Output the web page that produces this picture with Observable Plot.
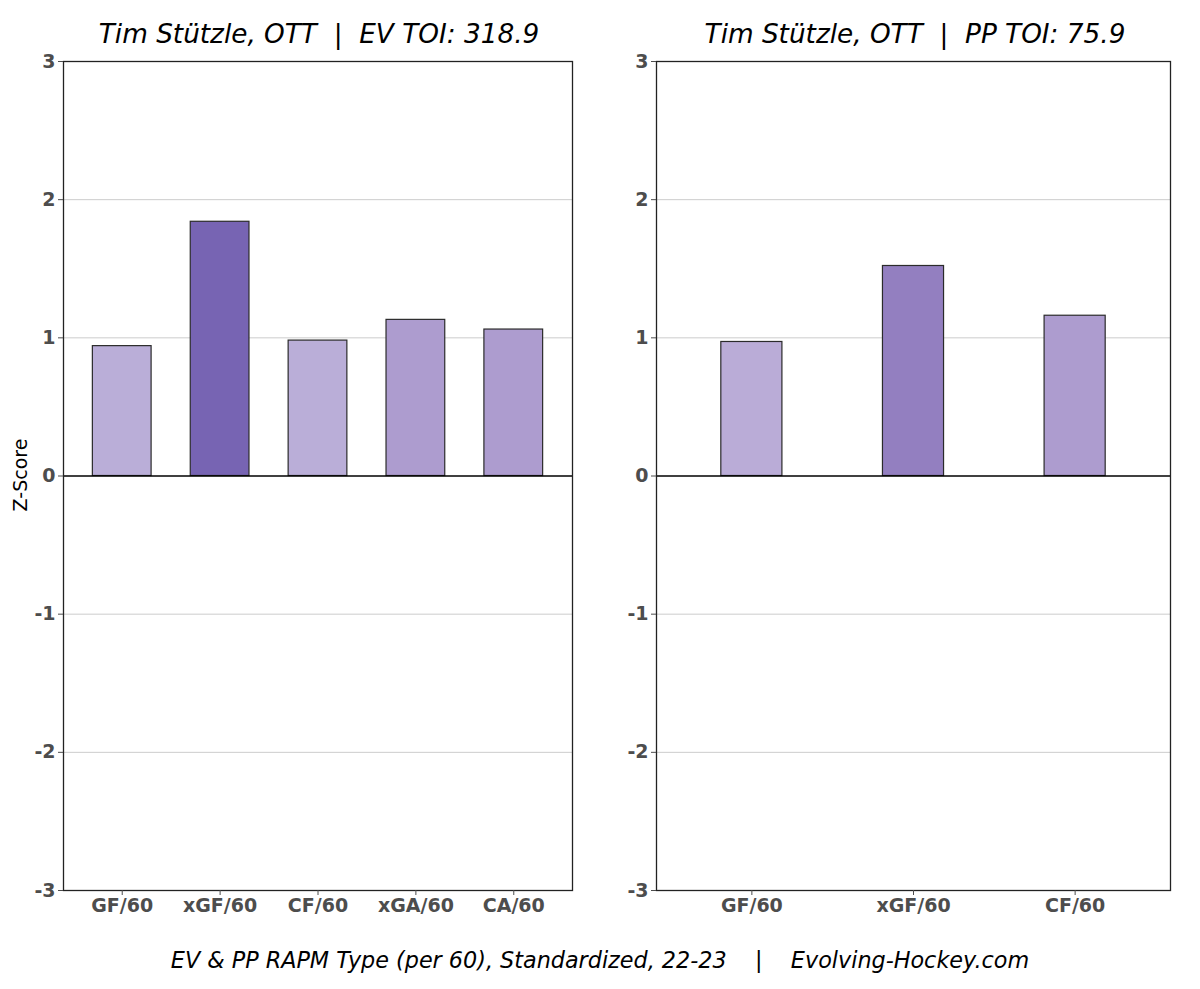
<!DOCTYPE html>
<html>
<head>
<meta charset="utf-8">
<script src="https://cdn.jsdelivr.net/npm/d3@7"></script>
<script src="https://cdn.jsdelivr.net/npm/@observablehq/plot@0.6"></script>
<style>
  html, body { margin: 0; padding: 0; background: #fff; }
  #wrap { position: relative; width: 1200px; height: 989px; overflow: hidden; font-family: "DejaVu Sans", sans-serif; }
  .panel { position: absolute; top: 0; }
  .title { position: absolute; width: 600px; text-align: center; font-style: italic; font-size: 26.3px; line-height: 26.3px; color: #000; white-space: pre; }
  .caption { position: absolute; left: 0; width: 1200px; text-align: center; font-style: italic; font-size: 22.3px; line-height: 22.3px; color: #000; white-space: pre; }
  .ylabel { position: absolute; width: 200px; height: 20px; line-height: 20px; text-align: center; font-size: 19px; color: #000; transform: rotate(-90deg); }
</style>
</head>
<body>
<div id="wrap"></div>
<script>
// ---- data ----
const evMetrics = ["GF/60", "xGF/60", "CF/60", "xGA/60", "CA/60"];
const evValues = [0.94, 1.84, 0.98, 1.13, 1.06];
const ppMetrics = ["GF/60", "xGF/60", "CF/60"];
const ppValues = [0.97, 1.52, 1.16];
const yTicks = [-3, -2, -1, 0, 1, 2, 3];
const gridTicks = [-2, -1, 1, 2];
const evTitle = "Tim Stützle, OTT  |  EV TOI: 318.9";
const ppTitle = "Tim Stützle, OTT  |  PP TOI: 75.9";
const captionText = "EV & PP RAPM Type (per 60), Standardized, 22-23    |    Evolving-Hockey.com";
const yLabel = "Z-Score";

// ---- styles ----
const evFills = ["#baaed8", "#7764b3", "#baaed8", "#ad9ccf", "#ad9ccf"];
const ppFills = ["#baacd7", "#937fc0", "#ad9ccf"];

function panel(metrics, values, fills, opts) {
  const data = metrics.map((m, i) => ({metric: m, value: values[i], fill: fills[i]}));
  return Plot.plot({
    width: 600,
    height: 989,
    marginTop: 61,
    marginBottom: 99,
    marginLeft: opts.marginLeft,
    marginRight: opts.marginRight,
    style: {fontFamily: "DejaVu Sans, sans-serif", background: "transparent", overflow: "visible"},
    x: {type: "band", domain: metrics, paddingInner: opts.paddingInner, paddingOuter: opts.paddingOuter, align: 0.5, round: false, label: null},
    y: {domain: [-3, 3], label: null},
    color: {type: "identity"},
    marks: [
      Plot.gridY(gridTicks, {stroke: "#cccccc", strokeOpacity: 1, strokeWidth: 1}),
      Plot.barY(data, {x: "metric", y: "value", fill: "fill", stroke: "#2b2b2b", strokeWidth: 1.2}),
      Plot.ruleY([0], {stroke: "#000", strokeWidth: 1.6}),
      Plot.frame({stroke: "#222", strokeWidth: 1.3}),
      Plot.axisY({ticks: yTicks, tickFormat: d => String(d), tickSize: 5, tickPadding: 3, fontSize: 19, fontWeight: "bold", color: "#4d4d4d", label: null}),
      Plot.axisX({tickSize: 5, tickPadding: 3, fontSize: 19, fontWeight: "bold", color: "#4d4d4d", label: null})
    ]
  });
}

const wrap = document.getElementById("wrap");

const left = panel(evMetrics, evValues, evFills, {marginLeft: 63, marginRight: 28, paddingInner: 0.4, paddingOuter: 0.3});
left.classList.add("panel");
left.style.left = "0px";
wrap.appendChild(left);

const right = panel(ppMetrics, ppValues, ppFills, {marginLeft: 56, marginRight: 30, paddingInner: 0.622, paddingOuter: 0.401});
right.classList.add("panel");
right.style.left = "600px";
wrap.appendChild(right);

function addDiv(cls, text, left, top) {
  const d = document.createElement("div");
  d.className = cls;
  d.textContent = text;
  d.style.left = left + "px";
  d.style.top = top + "px";
  wrap.appendChild(d);
  return d;
}
addDiv("title", evTitle, 319 - 300, 21.1);
addDiv("title", ppTitle, 915 - 300, 21.1);
addDiv("caption", captionText, 0, 949.4);
addDiv("ylabel", yLabel, 20 - 100, 475 - 10);
</script>
</body>
</html>
